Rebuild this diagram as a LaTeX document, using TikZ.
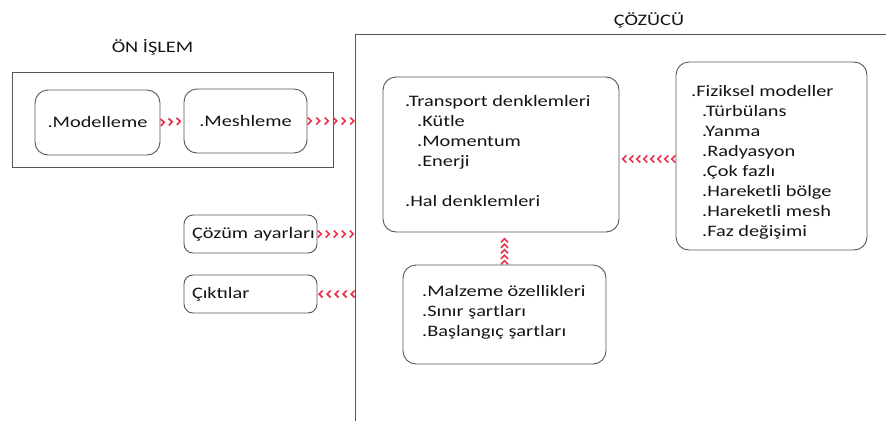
\documentclass[tikz,border=0pt]{standalone}
\usepackage{fontspec}
\setmainfont{Carlito}[FakeStretch=1.27]
\usetikzlibrary{arrows.meta,decorations.markings}
\definecolor{chevred}{RGB}{230,50,75}
\definecolor{edgegray}{RGB}{85,85,85}
\definecolor{inkgray}{RGB}{20,20,20}
\begin{document}
\begin{tikzpicture}[x=1pt,y=-1pt,
  every node/.style={font=\fontsize{16}{20}\selectfont, text=inkgray},
  box/.style={draw=edgegray, line width=0.9pt, rounded corners=13pt, inner sep=0pt},
  smallbox/.style={box, rounded corners=9pt},
  frame/.style={draw=edgegray, line width=0.9pt},
  txt/.style={anchor=north west, inner sep=0pt, align=left},
  chev/.style={decoration={markings,
      mark=between positions 5pt and 1 step #1 with
      {\arrow{Straight Barb[length=3.5pt,width=7pt,line width=1.7pt,color=chevred]}}},
      postaction=decorate}]
\useasboundingbox (0,0) rectangle (886,421);

% titles
\node (onT) at (152.5,47) {ÖN İŞLEM};
\node (solT) at (649,20) {ÇÖZÜCÜ};

% pre-processing frame
\node[frame, minimum width=321pt, minimum height=95pt, inner sep=0pt] (on) at (172.5,119.5) {};
% solver frame (open on right and bottom)
\draw[frame] (355,421) -- (355,34) -- (886,34);
\coordinate (solL) at (355,34);

% boxes
\node[box, minimum width=125pt, minimum height=65pt] (mod) at (97.5,122.5) {.Modelleme};
\node[box, minimum width=123pt, minimum height=64pt] (mesh) at (245.5,121) {.Meshleme};

\node[box, minimum width=236pt, minimum height=155pt] (trans) at (501,154.5) {};
\node[txt] (transT) at (405,95) {.Transport denklemleri\\
  \hspace*{12pt}.Kütle\\
  \hspace*{12pt}.Momentum\\
  \hspace*{12pt}.Enerji\\[20pt]
  .Hal denklemleri};

\node[box, minimum width=191pt, minimum height=188pt] (fiz) at (771.5,156) {};
\node[txt] (fizT) at (691,85) {.Fiziksel modeller\\
  \hspace*{11pt}.Türbülans\\
  \hspace*{11pt}.Yanma\\
  \hspace*{11pt}.Radyasyon\\
  \hspace*{11pt}.Çok fazlı\\
  \hspace*{11pt}.Hareketli bölge\\
  \hspace*{11pt}.Hareketli mesh\\
  \hspace*{11pt}.Faz değişimi};

\node[smallbox, minimum width=133pt, minimum height=38pt, text width=117pt, inner xsep=8pt, align=left] (coz) at (250.5,234) {\mbox{Çözüm ayarları}};
\node[smallbox, minimum width=133pt, minimum height=38pt, text width=117pt, inner xsep=8pt, align=left] (cik) at (250.5,294) {\mbox{Çıktılar}};

\node[box, minimum width=203pt, minimum height=99pt] (mal) at (504.5,314.5) {};
\node[txt] (malT) at (422,285) {.Malzeme özellikleri\\
  .Sınır şartları\\
  .Başlangıç şartları};

% chevron connectors
\path[chev=8pt] (mod.east) -- (mesh.west);
\path[chev=8.5pt] (mesh.east) -- (mesh.east -| solL);
\path[chev=8pt] (coz.east) -- (coz.east -| solL);
\path[chev=8pt] (cik.east -| solL) -- (cik.east);
\path[chev=7pt] ([yshift=-3pt]fiz.west) -- ([yshift=-3pt]fiz.west -| trans.east);
\path[chev=5.5pt] (mal.north) -- (mal.north |- trans.south);
\end{tikzpicture}
\end{document}
